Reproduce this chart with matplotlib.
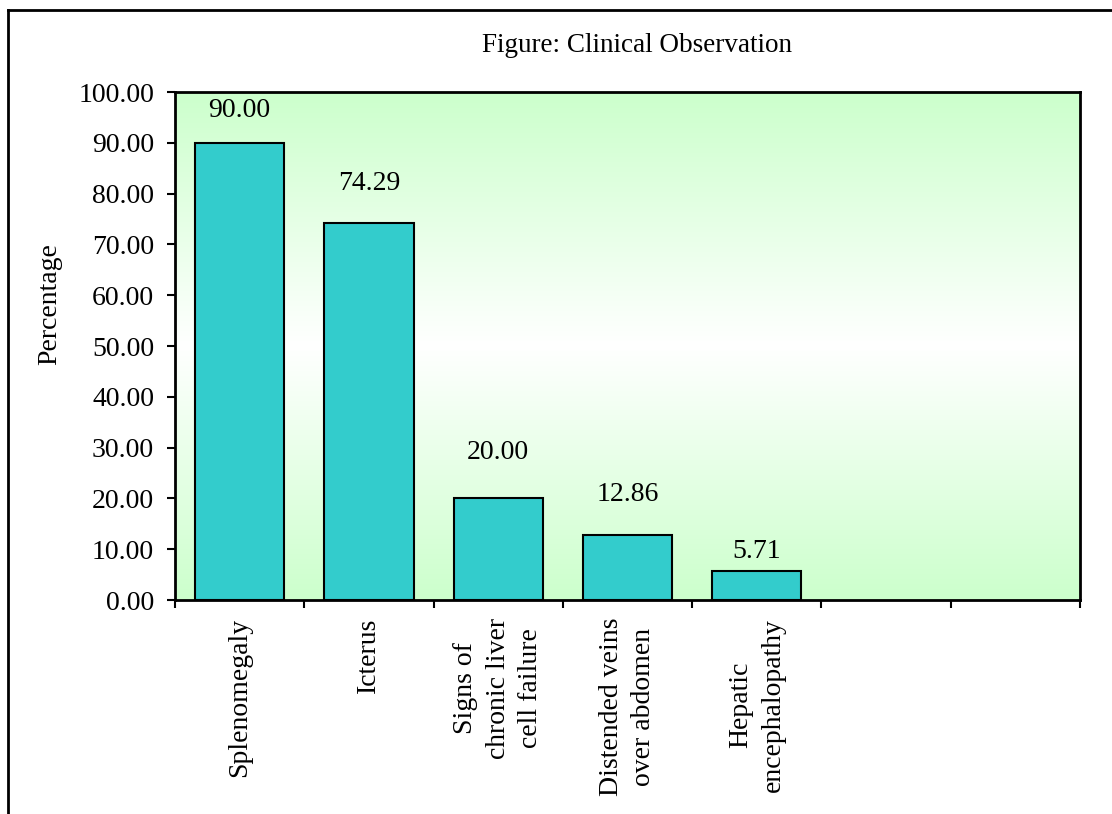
import matplotlib
matplotlib.use("Agg")
import matplotlib.pyplot as plt
import numpy as np
from matplotlib.lines import Line2D

# data
categories = [
    "Splenomegaly",
    "Icterus",
    "Signs of\nchronic liver\ncell failure",
    "Distended veins\nover abdomen",
    "Hepatic\nencephalopathy",
    "",
    "",
]
values = [90.00, 74.29, 20.00, 12.86, 5.71]
y_ticks = [0, 10, 20, 30, 40, 50, 60, 70, 80, 90, 100]

# gap (px) between bar top and its value label, as drawn in the original
label_gap = [22, 29, 36, 30, 8]

FONT = "Liberation Serif"
TICK_SIZE = 20
TITLE_SIZE = 19.5
BAR_COLOR = "#33CCCC"
GREEN = np.array([0xCC, 0xFF, 0xCC]) / 255.0

plt.rcParams["font.family"] = FONT

W, H = 1112, 814
fig = plt.figure(figsize=(W / 100, H / 100), dpi=100)
ax = fig.add_axes([175 / W, 1 - 600 / H, (1080 - 175) / W, (600 - 92) / H])

n = len(categories)
ax.set_xlim(0, n)
ax.set_ylim(0, 100)

# green -> white -> green vertical fill
t = np.linspace(0, 1, 256)
w = np.abs(t - 0.5) * 2
grad = 1 - (1 - GREEN)[None, :] * w[:, None]
ax.imshow(grad[:, None, :], extent=[0, n, 0, 100], aspect="auto",
          origin="lower", zorder=0, interpolation="bilinear")

x = np.arange(len(values)) + 0.5
bars = ax.bar(x, values, width=0.69, color=BAR_COLOR, edgecolor="black",
              linewidth=1.5, zorder=2)
for b, v, g in zip(bars, values, label_gap):
    ax.annotate(f"{v:.2f}", (b.get_x() + b.get_width() / 2, v),
                xytext=(0, g * 0.66), textcoords="offset points",
                ha="center", va="bottom", fontsize=TICK_SIZE)

ax.set_yticks(y_ticks)
ax.set_yticklabels([f"{v:.2f}" for v in y_ticks], fontsize=TICK_SIZE)
ax.set_xticks(np.arange(n + 1))
ax.set_xticklabels([])
ax.tick_params(axis="both", direction="out", length=6, width=1.5)
ax.tick_params(axis="y", pad=9)

for i, c in enumerate(categories):
    if c:
        ax.text(i + 0.5, -3.5, c, rotation=90, ha="center", va="top",
                multialignment="center", linespacing=1.4,
                fontsize=TICK_SIZE, transform=ax.transData, clip_on=False)

for s in ax.spines.values():
    s.set_linewidth(2)
    s.set_zorder(3)

fig.text(637 / W, 1 - 45 / H, "Figure: Clinical Observation",
         ha="center", va="center", fontsize=TITLE_SIZE)
fig.text(50 / W, 1 - 304 / H, "Percentage", rotation=90,
         ha="center", va="center", fontsize=20)

# outer frame (top and left edges visible)
fig.add_artist(Line2D([8 / W, 1], [1 - 10 / H, 1 - 10 / H],
                      transform=fig.transFigure, color="black", lw=2))
fig.add_artist(Line2D([8 / W, 8 / W], [0, 1 - 10 / H],
                      transform=fig.transFigure, color="black", lw=2))

fig.savefig("out.png", dpi=100)
